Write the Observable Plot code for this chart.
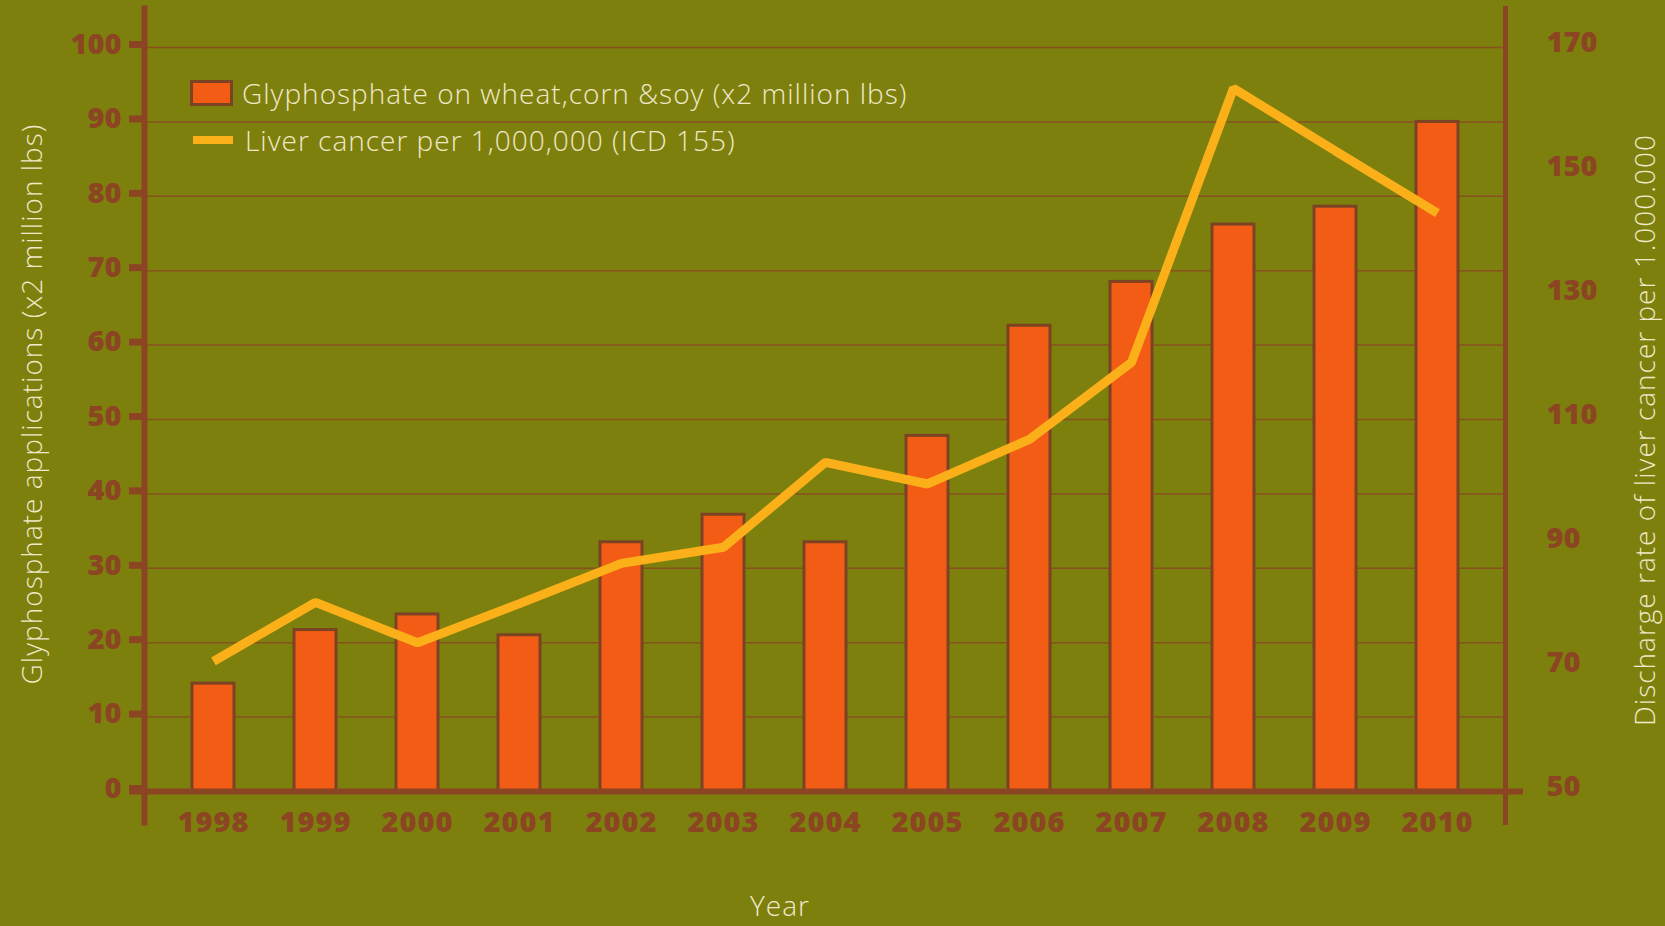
<!DOCTYPE html>
<html><head><meta charset="utf-8">
<script src="https://cdn.jsdelivr.net/npm/d3@7"></script>
<script src="https://cdn.jsdelivr.net/npm/@observablehq/plot@0.6"></script>
<style>
html,body{margin:0;padding:0;background:#7E800D;}
#wrap{position:relative;width:1665px;height:926px;overflow:hidden;background:#7E800D;}
#wrap svg{position:absolute;left:0;top:0;}
#wrap svg g[aria-label="x-axis tick label"] text{letter-spacing:1px;}
.t{position:absolute;font-family:"Open Sans",sans-serif;font-weight:300;color:#EFE9C9;white-space:nowrap;font-size:28px;letter-spacing:1px;line-height:1;}
.rot{transform:translate(-50%,-50%) rotate(-90deg);}
.legrow{position:absolute;display:flex;align-items:center;font-family:"Open Sans",sans-serif;font-weight:300;color:#EFE9C9;font-size:28px;letter-spacing:1px;white-space:nowrap;}
.sw-bar{width:37px;height:20px;background:#F25C14;border:3px solid #7B4322;margin-right:9px;}
.sw-line{width:40px;height:8px;background:#FBB01A;margin:0 12px 0 3px;}
</style></head><body><div id="wrap"></div>
<script>
const years = [1998,1999,2000,2001,2002,2003,2004,2005,2006,2007,2008,2009,2010];
const glyphosate = [14.5,21.7,23.8,21.0,33.5,37.2,33.5,47.8,62.6,68.5,76.2,78.6,90.0];
const liverCancer = [71.0,80.5,74.0,80.3,86.8,89.4,103.1,99.6,106.8,119.2,163.4,153.3,143.3];
const leftTicks = [0,10,20,30,40,50,60,70,80,90,100];
const rightTicks = [50,70,90,110,130,150,170];
const barLabel = "Glyphosphate on wheat,corn &soy (x2 million lbs)";
const lineLabel = "Liver cancer per 1,000,000 (ICD 155)";
const leftTitle = "Glyphosphate applications (x2 million lbs)";
const rightTitle = "Discharge rate of liver cancer per 1.000.000";
const xTitle = "Year";

const brown = "#8B4522";
const rMin = 50, rMax = 170;
const toLeft = v => (v - rMin) / (rMax - rMin) * 100;
const fromLeft = d => Math.round(d / 100 * (rMax - rMin) + rMin);
const data = years.map((y, i) => ({year: y, glyph: glyphosate[i], cancer: liverCancer[i]}));

const font = "'Open Sans', sans-serif";
const chart = Plot.plot({
  width: 1665, height: 926,
  marginLeft: 144, marginRight: 160, marginTop: 8, marginBottom: 104,
  style: {background: "transparent", overflow: "visible", fontFamily: font},
  x: {type: "band", domain: years, paddingInner: 0.59, paddingOuter: 0.43, label: null},
  y: {domain: [0, 100], range: [791, 47], label: null},
  marks: [
    Plot.gridY(leftTicks, {stroke: brown, strokeOpacity: 0.8, strokeWidth: 1.5}),
    Plot.barY(data, {x: "year", y: "glyph", fill: "#F25C14", stroke: "#7B4322", strokeWidth: 3}),
    Plot.line(data, {x: "year", y: d => toLeft(d.cancer), stroke: "#FBB01A", strokeWidth: 9, strokeLinecap: "butt", strokeLinejoin: "miter"}),
    Plot.frame({anchor: "left", stroke: brown, strokeWidth: 6}),
    Plot.frame({anchor: "right", stroke: brown, strokeWidth: 5}),
    Plot.ruleY([0], {stroke: brown, strokeWidth: 6, insetLeft: -15, insetRight: -18}),
    Plot.axisY(leftTicks, {anchor: "left", tickSize: 15, strokeWidth: 7, tickPadding: 8, fill: brown, stroke: brown, fontSize: 29, fontWeight: 800, dy: -3, label: null}),
    Plot.axisY(rightTicks.map(toLeft), {anchor: "right", tickSize: 0, tickPadding: 41, tickFormat: fromLeft, fill: brown, fontSize: 29, fontWeight: 800, dy: -5, label: null}),
    Plot.axisX({anchor: "bottom", tickSize: 0, tickPadding: 0, lineAnchor: "middle", tickFormat: d => String(d), fill: brown, fontSize: 29, fontWeight: 800, label: null})
  ]
});
const wrap = document.getElementById("wrap");
wrap.appendChild(chart);

function addText(txt, cls, css) {
  const d = document.createElement("div");
  d.className = cls; d.textContent = txt;
  Object.assign(d.style, css);
  wrap.appendChild(d);
}
addText(leftTitle, "t rot", {left: "31px", top: "404px"});
addText(rightTitle, "t rot", {left: "1644px", top: "430px"});
addText(xTitle, "t", {left: "780px", top: "905px", transform: "translate(-50%,-50%)"});

const r1 = document.createElement("div");
r1.className = "legrow"; r1.style.left = "190px"; r1.style.top = "74px";
r1.innerHTML = '<span class="sw-bar"></span><span></span>';
r1.lastChild.textContent = barLabel;
wrap.appendChild(r1);
const r2 = document.createElement("div");
r2.className = "legrow"; r2.style.left = "190px"; r2.style.top = "121px";
r2.innerHTML = '<span class="sw-line"></span><span></span>';
r2.lastChild.textContent = lineLabel;
wrap.appendChild(r2);
</script>
</body></html>
